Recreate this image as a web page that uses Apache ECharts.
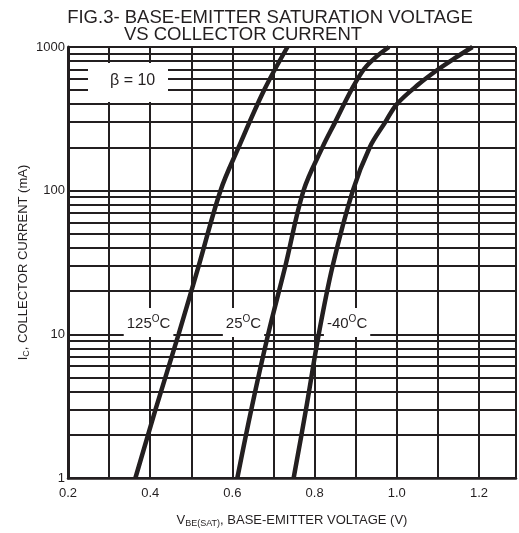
<!DOCTYPE html>
<html><head><meta charset="utf-8">
<script src="https://cdn.jsdelivr.net/npm/echarts@6/dist/echarts.min.js"></script>
<style>html,body{margin:0;padding:0;background:#fff}#c{width:519px;height:533px}</style>
</head><body><div id="c"></div>
<script>
// Data: [VBE(SAT) (V), IC (mA)]
const curve125 = [[0.364,1],[0.413,3],[0.469,10],[0.518,30],[0.571,100],[0.615,200],[0.677,500],[0.734,1000]];
const curve25  = [[0.612,1],[0.646,3],[0.687,10],[0.729,30],[0.773,100],[0.819,200],[0.850,300],[0.889,500],[0.920,700],[0.949,850],[0.981,1000]];
const curveM40 = [[0.749,1],[0.779,3],[0.810,10],[0.844,30],[0.893,100],[0.934,200],[0.972,300],[1.000,400],[1.053,550],[1.101,700],[1.145,850],[1.184,1000]];
const seriesNames = ['125', '25', '-40'];
const xTickLabels = [0.2, 0.4, 0.6, 0.8, 1.0, 1.2];
const yTickLabels = [1, 10, 100, 1000];
const minorGrid = [2,3,4,5,6,7,8,9,20,30,40,50,60,70,80,90,200,300,400,500,600,700,800,900];
const betaText = 'β = 10';

const INK = '#231f20';
const FONT = '"Liberation Sans", Arial, Helvetica, sans-serif';
const chart = echarts.init(document.getElementById('c'), null, {renderer: 'canvas'});

function tempLabel(name, coord) {
  return {
    silent: true,
    symbol: 'rect',
    symbolSize: 1,
    itemStyle: {color: 'rgba(0,0,0,0)'},
    data: [{coord: coord, value: name}],
    label: {
      show: true, position: 'inside',
      formatter: '{t|' + name + '}{s|O}{t|C}',
      backgroundColor: '#fff',
      padding: [6, 3, 4, 3],
      rich: {
        t: {fontSize: 15, fontFamily: FONT, color: INK},
        s: {fontSize: 10, fontFamily: FONT, color: INK, padding: [0, 0, 9, 0]}
      }
    }
  };
}

const curveStyle = {color: INK, width: 4.5};

chart.setOption({
  animation: false,
  backgroundColor: '#fff',
  title: [
    {text: 'FIG.3- BASE-EMITTER SATURATION VOLTAGE', left: 265, top: 3, textAlign: 'center',
     textStyle: {fontFamily: FONT, fontSize: 18.5, fontWeight: 'normal', color: INK}},
    {text: 'VS COLLECTOR CURRENT', left: 238, top: 20, textAlign: 'center',
     textStyle: {fontFamily: FONT, fontSize: 18.5, fontWeight: 'normal', color: INK}}
  ],
  grid: {left: 68, right: 0, top: 47, bottom: 49, containLabel: false},
  xAxis: {
    type: 'value', min: 0.2, max: 1.29, interval: 0.1,
    name: '{v|V}{sub|BE(SAT)}{v|, BASE-EMITTER VOLTAGE (V)}',
    nameLocation: 'middle', nameGap: 34,
    nameTextStyle: {rich: {
      v: {fontSize: 13, fontFamily: FONT, color: INK},
      sub: {fontSize: 9, fontFamily: FONT, color: INK, padding: [7, 0, 0, 0]}
    }},
    axisLine: {show: true, lineStyle: {color: INK, width: 2.5}},
    axisTick: {show: false},
    axisLabel: {
      margin: 9, fontSize: 13, fontFamily: FONT, color: INK,
      formatter: function (v) {
        const r = Math.round(v * 10) / 10;
        for (const t of xTickLabels) { if (Math.abs(t - r) < 1e-6) return t.toFixed(1); }
        return '';
      }
    },
    splitLine: {show: true, lineStyle: {color: INK, width: 2}}
  },
  yAxis: {
    type: 'log', logBase: 10, min: 1, max: 1000,
    name: '{v|I}{sub|C}{v|, COLLECTOR CURRENT (mA)}',
    nameLocation: 'middle', nameGap: 37, nameMoveOverlap: false,
    nameTextStyle: {rich: {
      v: {fontSize: 13, fontFamily: FONT, color: INK},
      sub: {fontSize: 9, fontFamily: FONT, color: INK, padding: [7, 0, 0, 0]}
    }},
    axisLine: {show: true, lineStyle: {color: INK, width: 3}},
    axisTick: {show: false},
    axisLabel: {
      margin: 3, fontSize: 13, fontFamily: FONT, color: INK,
      formatter: function (v) { return yTickLabels.indexOf(Math.round(v)) >= 0 ? String(Math.round(v)) : ''; }
    },
    splitLine: {show: true, lineStyle: {color: INK, width: 2}}
  },
  graphic: [
    {type: 'rect', left: 88, top: 63, z: 50, shape: {width: 80, height: 39}, style: {fill: '#fff'}},
    {type: 'text', left: 110, top: 73, z: 51, style: {text: betaText, fontSize: 16, fontFamily: FONT, fill: INK}}
  ],
  series: [
    {
      type: 'line', data: [], z: 1, silent: true,
      markLine: {
        silent: true, symbol: ['none', 'none'], label: {show: false},
        lineStyle: {color: INK, width: 2, type: 'solid'},
        data: minorGrid.map(v => ({yAxis: v}))
      }
    },
    {name: seriesNames[0], type: 'line', data: curve125, smooth: 0.35, showSymbol: false, lineStyle: curveStyle, z: 5,
     markPoint: tempLabel(seriesNames[0], [0.396, 12.1])},
    {name: seriesNames[1], type: 'line', data: curve25, smooth: 0.35, showSymbol: false, lineStyle: curveStyle, z: 5,
     markPoint: tempLabel(seriesNames[1], [0.627, 12.1])},
    {name: seriesNames[2], type: 'line', data: curveM40, smooth: 0.35, showSymbol: false, lineStyle: curveStyle, z: 5,
     markPoint: tempLabel(seriesNames[2], [0.879, 12.1])}
  ]
});
</script></body></html>
